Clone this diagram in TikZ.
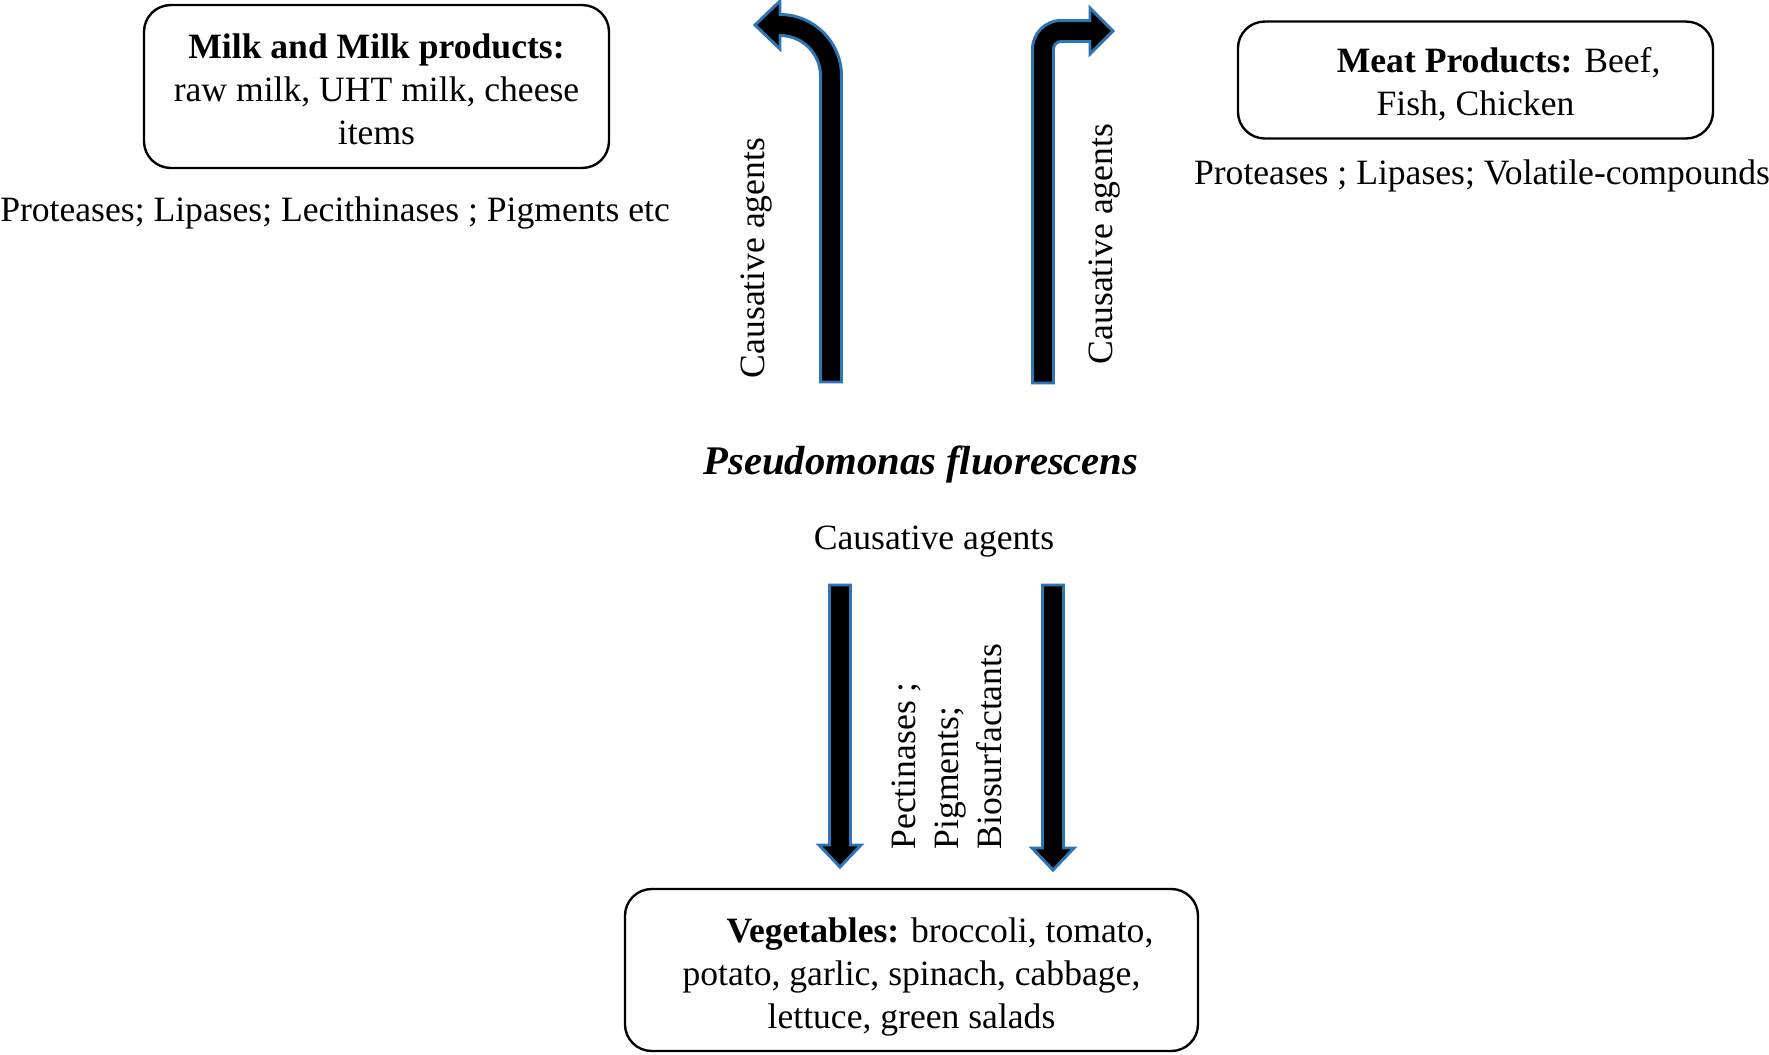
\documentclass[tikz,border=0pt]{standalone}
\usepackage{fontspec}
\setmainfont{Liberation Serif}
\definecolor{arrowblue}{RGB}{46,117,182}

\begin{document}
\begin{tikzpicture}[x=0.337pt, y=-0.337pt,
    txt/.style={font=\fontsize{12}{14.5}\selectfont, inner sep=0pt},
    foodbox/.style={draw, line width=0.8pt, rounded corners=9pt},
    blockarrow/.style={fill=black, draw=arrowblue, line width=1pt, line join=miter}]
  \useasboundingbox (0,0) rectangle (1769,1054);

  % food groups
  \node[foodbox, minimum width=156.7pt, minimum height=54.9pt] (milk) at (376.5,86.5) {};
  \node[txt, align=center] (milktext) at ([yshift=-0.9pt]milk.center)
    {\textbf{Milk and Milk products:}\\raw milk, UHT milk, cheese\\items};
  \node[foodbox, minimum width=160.1pt, minimum height=39.4pt] (meat) at (1475.5,80) {};
  \node[txt, align=center] (meattext) at ([yshift=-1.5pt]meat.center)
    {\hspace*{1.3em}\textbf{Meat Products:} Beef,\\Fish, Chicken};
  \node[foodbox, minimum width=193.1pt, minimum height=54.6pt] (veg) at (911.5,970) {};
  \node[txt, align=center] (vegtext) at ([yshift=-2.3pt]veg.center)
    {\hspace*{1.6em}\textbf{Vegetables:} broccoli, tomato,\\potato, garlic, spinach, cabbage,\\lettuce, green salads};

  % enzymes and metabolites
  \node[txt] (milkenz) at (335,212.5) {Proteases; Lipases; Lecithinases ; Pigments etc};
  \node[txt] (meatenz) at (1482,175.5) {Proteases ; Lipases; Volatile-compounds};
  \node[txt, rotate=90, align=left, anchor=west] (vegenz) at (947,850)
    {Pectinases ;\\Pigments;\\Biosurfactants};

  % the bacterium
  \node[font=\fontsize{13.7}{16}\selectfont\bfseries\itshape, inner sep=0pt] (pf) at (921,464.5)
    {Pseudomonas fluorescens};
  \node[txt] (cause) at (934,541.5) {Causative agents};
  \node[txt, rotate=90] (causemilk) at (756.5,258) {Causative agents};
  \node[txt, rotate=90] (causemeat) at (1104.5,244) {Causative agents};

  % block arrows
  \draw[blockarrow] (820.5,382) -- (841.5,382) -- (841.5,76)
    .. controls (841.5,42) and (814,14.5) .. (780,14.5)
    -- (780,1) -- (755,25) -- (780,49) -- (780,35.5)
    .. controls (802.4,35.5) and (820.5,53.6) .. (820.5,76) -- cycle;
  \draw[blockarrow] (1032.5,383) -- (1053.5,383) -- (1053.5,49)
    .. controls (1053.5,44.9) and (1056.9,41.5) .. (1061,41.5)
    -- (1090,41.5) -- (1090,54) -- (1113,31) -- (1090,8) -- (1090,20.5) -- (1061,20.5)
    .. controls (1045.3,20.5) and (1032.5,33.3) .. (1032.5,49) -- cycle;
  \draw[blockarrow] (829.5,585) -- (850.5,585) -- (850.5,845) -- (861,845)
    -- (840,867) -- (819,845) -- (829.5,845) -- cycle;
  \draw[blockarrow] (1042.5,585) -- (1063.5,585) -- (1063.5,848) -- (1074,848)
    -- (1053,870) -- (1032,848) -- (1042.5,848) -- cycle;
\end{tikzpicture}
\end{document}
